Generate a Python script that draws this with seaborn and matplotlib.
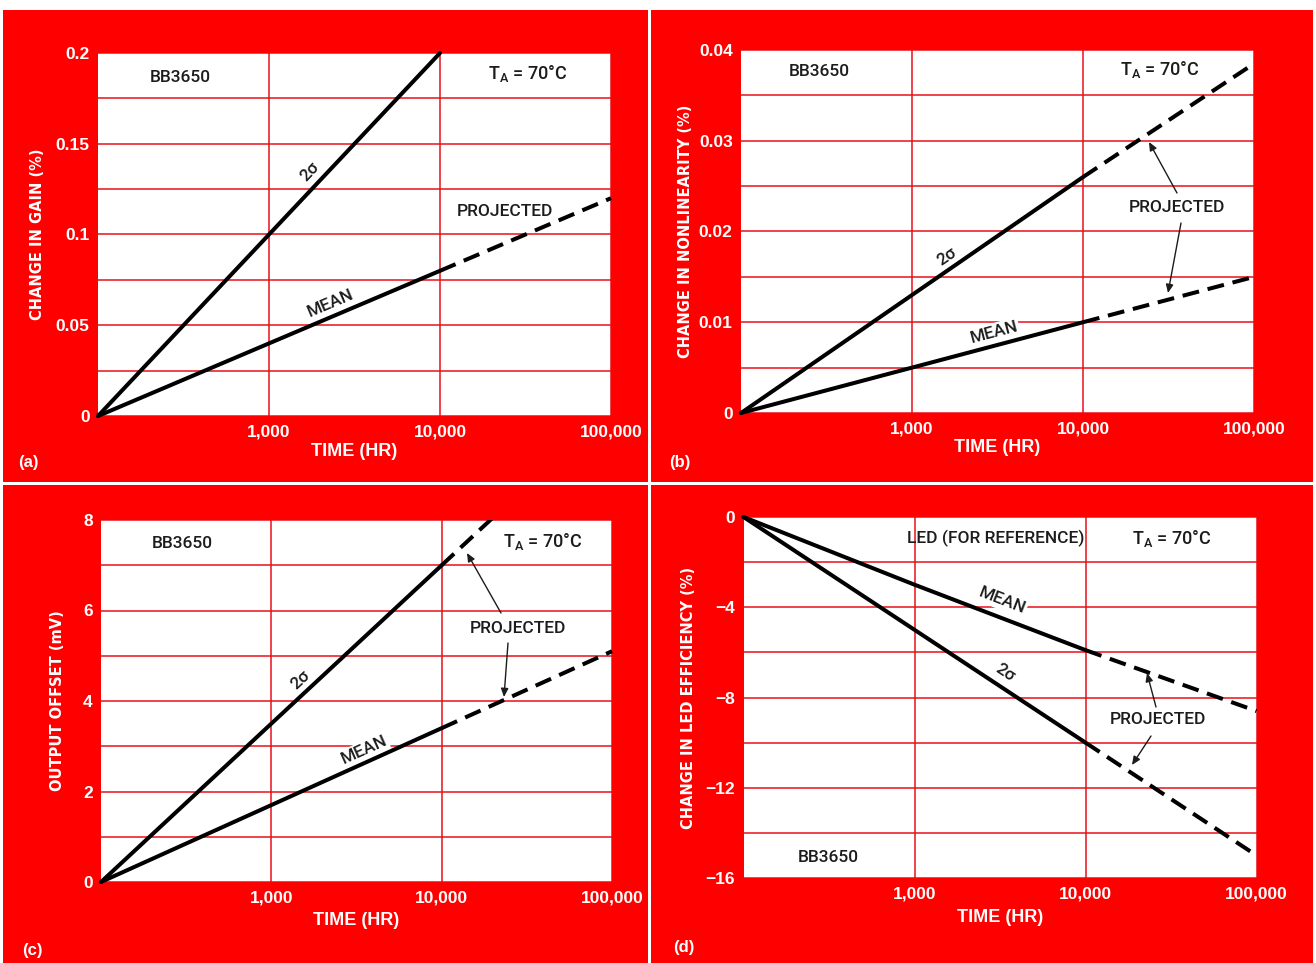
import math
import matplotlib
matplotlib.use("Agg")
import matplotlib.pyplot as plt
import seaborn as sns
from matplotlib import font_manager
from matplotlib.patches import Rectangle

# ---------------- data ----------------
time_measured = [100, 1000, 10000]
time_projected = [10000, 100000]
x_ticks = [1000, 10000, 100000]
x_tick_labels = ["1,000", "10,000", "100,000"]

gain_2sigma = [0.0, 0.10, 0.20]
gain_mean = [0.0, 0.04, 0.08]
gain_mean_proj = [0.08, 0.12]
gain_yticks = [0, 0.05, 0.1, 0.15, 0.2]
gain_ytick_labels = ["0", "0.05", "0.1", "0.15", "0.2"]

nonlin_2sigma = [0.0, 0.013, 0.026]
nonlin_2sigma_proj = [0.026, 0.0385]
nonlin_mean = [0.0, 0.005, 0.010]
nonlin_mean_proj = [0.010, 0.015]
nonlin_yticks = [0, 0.01, 0.02, 0.03, 0.04]
nonlin_ytick_labels = ["0", "0.01", "0.02", "0.03", "0.04"]

offset_2sigma = [0.0, 3.5, 7.0]
offset_2sigma_proj = [7.0, 10.5]
offset_mean = [0.0, 1.7, 3.4]
offset_mean_proj = [3.4, 5.1]
offset_yticks = [0, 2, 4, 6, 8]
offset_ytick_labels = ["0", "2", "4", "6", "8"]

led_mean = [0.0, -3.0, -5.9]
led_mean_proj = [-5.9, -8.6]
led_2sigma = [0.0, -5.0, -10.0]
led_2sigma_proj = [-10.0, -15.0]
led_yticks = [0, -4, -8, -12, -16]
led_ytick_labels = ["0", "\u22124", "\u22128", "\u221212", "\u221216"]

# ---------------- style ----------------
sns.set_style("white")
names = {f.name for f in font_manager.fontManager.ttflist}
NARROW = "Liberation Sans Narrow" if "Liberation Sans Narrow" in names else "Liberation Sans"
INNER = "Roboto" if "Roboto" in names else NARROW
plt.rcParams["font.family"] = [NARROW, "DejaVu Sans"]
WIDE = ["DejaVu Sans"]

RED = "#fe0000"
GRID = "#e8101a"
INK = "#1c1c1c"
W, H = 1316, 963

fig = plt.figure(figsize=(W / 100, H / 100), dpi=100, facecolor="white")

# red panel backgrounds
for (x0, y0, x1, y1) in [(3, 10, 648, 482), (651, 10, 1313, 482),
                         (3, 485, 648, 963), (651, 485, 1313, 963)]:
    fig.patches.append(Rectangle((x0 / W, 1 - y1 / H), (x1 - x0) / W, (y1 - y0) / H,
                                 transform=fig.transFigure, facecolor=RED,
                                 edgecolor="none", zorder=-10))


def px_axes(left, top, right, bottom):
    a = fig.add_axes([left / W, 1 - bottom / H, (right - left) / W, (bottom - top) / H])
    a.set_zorder(1)
    return a


def ptext(x, y, s, **kw):
    kw.setdefault("ha", "center")
    kw.setdefault("va", "center")
    kw.setdefault("zorder", 20)
    return fig.text(x / W, 1 - y / H, s, **kw)


def itext(x, y, s, size=12.5, **kw):
    return ptext(x, y, s, fontsize=size, color=INK, family=[INNER, "DejaVu Sans"],
                 fontweight="medium", **kw)


def arrow(tail, tip):
    fig.add_artist(matplotlib.patches.FancyArrowPatch(
        (tail[0] / W, 1 - tail[1] / H), (tip[0] / W, 1 - tip[1] / H),
        transform=fig.transFigure, arrowstyle="-|>,head_length=5,head_width=2.2",
        color=INK, lw=1.0, shrinkA=0, shrinkB=0, zorder=20))


LW = 2.9
DASH = (0, (4.2, 2.2))


def setup(ax, ylim, yticks, ylabels, ylabel, ylabel_x, xlabel_y):
    ax.set_facecolor("white")
    ax.set_xscale("log")
    ax.set_xlim(100, 100000)
    ax.set_ylim(*ylim)
    ax.set_xticks(x_ticks)
    ax.set_xticklabels(x_tick_labels)
    ax.xaxis.set_minor_locator(matplotlib.ticker.NullLocator())
    ax.set_yticks(yticks)
    ax.set_yticklabels(ylabels)
    step = (yticks[1] - yticks[0]) / 2
    lo = min(yticks)
    ax.set_yticks([lo + abs(step) * (2 * i + 1) for i in range(len(yticks) - 1)], minor=True)
    ax.grid(True, which="both", axis="y", color=GRID, lw=1.1)
    ax.grid(True, which="major", axis="x", color=GRID, lw=1.1)
    ax.set_axisbelow(True)
    for sp in ax.spines.values():
        sp.set_visible(False)
    ax.tick_params(which="both", length=0, labelcolor="white", labelsize=12.5, pad=6)
    for lab in ax.get_xticklabels() + ax.get_yticklabels():
        lab.set_fontweight("bold")
    ax.set_xlabel("TIME (HR)", color="white", fontsize=13, fontweight="bold", va="center")
    ax.xaxis.set_label_coords(0.5, xlabel_y)
    ax.set_ylabel(ylabel, color="white", fontsize=10.5, fontweight="bold",
                  family=WIDE, va="center")
    ax.yaxis.set_label_coords(ylabel_x, 0.5)


def line(ax, x, y, dashed=False, clip=False):
    sns.lineplot(x=x, y=y, ax=ax, color="black", lw=LW, clip_on=clip,
                 linestyle=DASH if dashed else "-", solid_capstyle="round",
                 dash_capstyle="butt", zorder=5)


def rot(ax, x, y):
    p0 = ax.transData.transform((x[0], y[0]))
    p1 = ax.transData.transform((x[-1], y[-1]))
    return math.degrees(math.atan2(p1[1] - p0[1], p1[0] - p0[0]))


def label(ax, x, y, s, px, py):
    itext(px, py, s, rotation=rot(ax, x, y), rotation_mode="anchor",
          bbox=dict(facecolor="white", edgecolor="none", pad=1.0))


TA = "T$_\\mathregular{A}$ = 70\u00b0C"

# ---------------- (a) ----------------
ax = px_axes(98, 53, 611, 416)
setup(ax, (0, 0.2), gain_yticks, gain_ytick_labels, "CHANGE IN GAIN (%)", -0.117, -0.099)
line(ax, time_measured, gain_2sigma)
line(ax, time_measured, gain_mean)
line(ax, time_projected, gain_mean_proj, dashed=True)
label(ax, time_measured, gain_2sigma, "2\u03c3", 310, 172)
label(ax, time_measured, gain_mean, "MEAN", 330, 303)
itext(180, 77, "BB3650")
itext(528, 73, TA, size=13)
itext(505, 212, "PROJECTED")
ptext(28, 462, "(a)", fontsize=12, color="white", fontweight="bold")

# ---------------- (b) ----------------
ax = px_axes(741, 50, 1254, 413)
setup(ax, (0, 0.04), nonlin_yticks, nonlin_ytick_labels, "CHANGE IN NONLINEARITY (%)", -0.109, -0.096)
line(ax, time_measured, nonlin_2sigma)
line(ax, time_projected, nonlin_2sigma_proj, dashed=True)
line(ax, time_measured, nonlin_mean)
line(ax, time_projected, nonlin_mean_proj, dashed=True)
label(ax, time_measured, nonlin_2sigma, "2\u03c3", 947, 257)
label(ax, time_measured, nonlin_mean, "MEAN", 994, 332)
itext(819, 72, "BB3650")
itext(1160, 70, TA, size=13)
itext(1177, 208, "PROJECTED")
arrow((1177, 193), (1149, 142))
arrow((1181, 223), (1168, 293))
ptext(680, 462, "(b)", fontsize=12, color="white", fontweight="bold")

# ---------------- (c) ----------------
ax = px_axes(101, 520, 612, 882)
setup(ax, (0, 8), offset_yticks, offset_ytick_labels, "OUTPUT OFFSET (mV)", -0.086, -0.105)
line(ax, time_measured, offset_2sigma)
line(ax, time_projected, offset_2sigma_proj, dashed=True, clip=True)
line(ax, time_measured, offset_mean)
line(ax, time_projected, offset_mean_proj, dashed=True)
label(ax, time_measured, offset_2sigma, "2\u03c3", 301, 680)
label(ax, time_measured, offset_mean, "MEAN", 364, 750)
itext(182, 543, "BB3650")
itext(543, 542, TA, size=13)
itext(518, 628, "PROJECTED")
arrow((501, 613), (467, 553))
arrow((508, 643), (504, 697))
ptext(32, 950, "(c)", fontsize=12, color="white", fontweight="bold")

# ---------------- (d) ----------------
ax = px_axes(743.5, 517, 1256.5, 878)
setup(ax, (-16, 0), led_yticks[::-1], led_ytick_labels[::-1], "CHANGE IN LED EFFICIENCY (%)", -0.108, -0.11)
line(ax, time_measured, led_mean)
line(ax, time_projected, led_mean_proj, dashed=True)
line(ax, time_measured, led_2sigma)
line(ax, time_projected, led_2sigma_proj, dashed=True)
label(ax, time_measured, led_mean, "MEAN", 1002, 601)
label(ax, time_measured, led_2sigma, "2\u03c3", 1005, 673)
itext(996, 538, "LED (FOR REFERENCE)")
itext(1172, 538, TA, size=13)
itext(828, 857, "BB3650")
itext(1158, 720, "PROJECTED")
arrow((1156, 707), (1147, 673))
arrow((1151, 736), (1132, 765))
ptext(684, 947, "(d)", fontsize=12, color="white", fontweight="bold")

fig.savefig("out.png", dpi=100, facecolor="white")
